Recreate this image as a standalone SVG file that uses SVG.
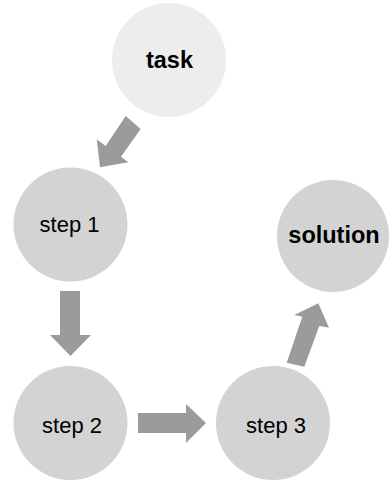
<svg xmlns="http://www.w3.org/2000/svg" width="389" height="480" viewBox="0 0 389 480">
<style>
.n{fill:#d3d3d3}
.t{fill:#ededed}
.a{fill:#9b9b9b}
text{font-family:"Liberation Sans",Arial,sans-serif;fill:#000;text-anchor:middle}
.r{font-size:22px}
.b{font-size:23.5px;font-weight:bold}
</style>
<rect width="389" height="480" fill="#fff"/>
<g id="task"><circle class="t" cx="169" cy="60" r="57"/><text class="b" x="169.5" y="68">task</text></g>
<g id="step1"><circle class="n" cx="70.5" cy="224.5" r="57"/><text class="r" x="69.5" y="232">step 1</text></g>
<g id="solution"><circle class="n" cx="333" cy="236" r="56"/><text class="b" x="334" y="243">solution</text></g>
<g id="step2"><circle class="n" cx="70.5" cy="423" r="57"/><text class="r" x="72" y="433">step 2</text></g>
<g id="step3"><circle class="n" cx="273" cy="423" r="57"/><text class="r" x="276" y="433">step 3</text></g>
<g id="connectors">
<polygon class="a" points="125.7,116 140.7,129 121,156.7 128.3,162.3 100,167.3 96.7,139.3 105.7,146"/>
<polygon class="a" points="60,291 80,291 80,335 91,335 70.5,356 50,335 60,335"/>
<polygon class="a" points="138,413 186,413 186,404 206,423 186,443 186,433 138,433"/>
<polygon class="a" points="286.7,362.7 302.3,316.7 294.3,315 318.3,303.3 329,327.7 319.3,326 304.3,366.7"/>
</g>
</svg>
